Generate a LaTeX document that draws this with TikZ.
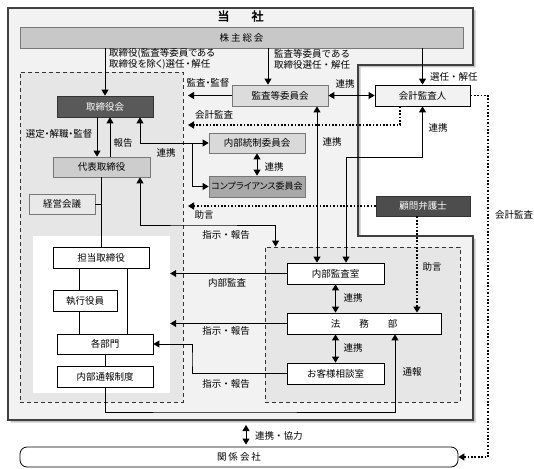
\documentclass[tikz,border=0pt]{standalone}
\usepackage{fontspec}
\setmainfont{Noto Sans CJK JP}
\newfontfamily\jpb[FakeBold=2.5]{Noto Sans CJK JP}
\newfontfamily\jpp[RawFeature=+palt]{Noto Sans CJK JP}
\usetikzlibrary{arrows.meta,shadows}
\definecolor{frm}{HTML}{F2F2F2}
\definecolor{regc}{HTML}{E6E6E6}
\definecolor{kabuc}{HTML}{C8C8C8}
\definecolor{torc}{HTML}{595959}
\definecolor{kanc}{HTML}{DCDCDC}
\definecolor{daic}{HTML}{CDCDCD}
\definecolor{keic}{HTML}{E9E9E9}
\definecolor{naic}{HTML}{D9D9D9}
\definecolor{compc}{HTML}{A8A8A8}
\definecolor{komc}{HTML}{4D4D4D}
\definecolor{bord}{HTML}{777777}
\tikzset{
  txt/.style={font=\fontsize{9.5}{11}\selectfont},
  ptxt/.style={font=\fontsize{9.5}{11}\jpp},
  bx/.style={draw=black, line width=0.8pt, inner sep=0pt, txt, fill=white},
  gbx/.style={bx, draw=bord},
  regbox/.style={draw=black!80, line width=0.8pt, dash pattern=on 4pt off 3pt, fill=regc, inner sep=0pt},
  lbl/.style={txt, inner sep=0pt},
  plbl/.style={ptxt, inner sep=0pt},
  con/.style={line width=1pt},
  dotl/.style={line width=1.7pt, dash pattern=on 1.7pt off 1.7pt},
  >={Triangle[width=7pt,length=6pt]}
}
\begin{document}
\begin{tikzpicture}[x=1pt,y=-1pt]
\useasboundingbox (0,0) rectangle (534,468);
% outer frame
\draw[line width=1.2pt, draw=black!75, fill=frm, drop shadow={shadow xshift=2.5pt, shadow yshift=-2.5pt, fill=black!45}]
  (8,8) -- (473,8) -- (473,65) -- (358,65) -- (358,236) -- (473,236) -- (473,420) -- (8,420) -- cycle;
\node[txt, font=\fontsize{12}{13}\jpb] (title) at (240.5,16) {当\hspace{22pt}社};
% regions
\node[regbox, minimum width=163pt, minimum height=330pt] (lreg) at (101.5,237) {};
\node[fill=white, inner sep=0pt, minimum width=137pt, minimum height=157pt] (wreg) at (101.5,314.5) {};
\node[regbox, minimum width=195pt, minimum height=155pt] (rreg) at (362.5,324.5) {};
% boxes
\node[gbx, fill=kabuc, minimum width=443pt, minimum height=21pt] (kabu) at (241.5,37.5) {株\hspace{2pt}主\hspace{2pt}総\hspace{2pt}会};
\node[gbx, draw=black!80, fill=torc, text=white, minimum width=96pt, minimum height=21pt] (torikai) at (105,106.5) {取締役会};
\node[gbx, fill=kanc, minimum width=96pt, minimum height=21pt] (kansa) at (280,95.5) {監査等委員会};
\node[bx, fill=frm, minimum width=95pt, minimum height=21pt] (kaikei) at (422.5,95.5) {会計監査人};
\node[gbx, fill=daic, minimum width=97pt, minimum height=20pt] (daihyo) at (101.5,167) {代表取締役};
\node[gbx, fill=naic, minimum width=96pt, minimum height=20pt] (naibu) at (257,143) {内部統制委員会};
\node[gbx, fill=compc, minimum width=96pt, minimum height=21pt, font=\fontsize{9}{10}\jpp] (comp) at (257,186.5) {コンプライアンス委員会};
\node[gbx, draw=black!80, fill=komc, text=white, minimum width=94pt, minimum height=20pt] (komon) at (423,206) {顧問弁護士};
\node[gbx, fill=keic, minimum width=66pt, minimum height=20pt] (keiei) at (62,204) {経営会議};
\node[bx, minimum width=96pt, minimum height=21pt] (tanto) at (101,257.5) {担当取締役};
\node[bx, minimum width=64pt, minimum height=21pt] (shikko) at (85,300.5) {執行役員};
\node[bx, minimum width=96pt, minimum height=20pt] (kakubu) at (105,344) {各部門};
\node[bx, minimum width=96pt, minimum height=21pt] (tsuho) at (105,376.5) {内部通報制度};
\node[bx, minimum width=97pt, minimum height=21pt] (naikan) at (335.5,273.5) {内部監査室};
\node[bx, minimum width=154pt, minimum height=21pt] (homu) at (364,323.5) {法\hspace{19pt}務\hspace{19pt}部};
\node[bx, minimum width=97pt, minimum height=21pt] (okyaku) at (335.5,373.5) {お客様相談室};
\node[bx, rounded corners=7pt, minimum width=438pt, minimum height=20pt] (kankei) at (239,457) {関\hspace{2pt}係\hspace{2pt}会\hspace{2pt}社};
% helper coordinates
\coordinate (kb1) at (188,95.5);
\coordinate (ka) at (188,125);
\coordinate (j1) at (192,143);
\coordinate (j2) at (346,157);
\coordinate (jo) at (188,206);
\coordinate (j3) at (488,300);
\coordinate (j4) at (200,225);
\coordinate (j5) at (200,412);
\coordinate (j6) at (192,360);
\coordinate (fb) at (246,425);
% connectors
\draw[con,->] (kabu.south -| torikai.north) -- (torikai.north);
\draw[con,->] ([xshift=-12pt]kansa.north |- kabu.south) -- ([xshift=-12pt]kansa.north);
\draw[con,->] (kaikei.north |- kabu.south) -- (kaikei.north);
\draw[con,<->] (kansa.east) -- (kaikei.west);
\draw[con,->] (kansa.west) -- (kb1);
\draw[dotl,->] ([xshift=-22.5pt]kaikei.south) |- (ka);
\draw[con,->] ([xshift=-8pt]torikai.south) -- ([xshift=-8pt]torikai.south |- daihyo.north);
\draw[con,->] ([xshift=5pt]torikai.south |- daihyo.north) -- ([xshift=5pt]torikai.south);
\draw[con,->] (j1) -- (naibu.west);
\draw[con,->] (j1) |- (comp.west);
\draw[con,->] (j1) -| ([xshift=35pt]torikai.south);
\draw[con,<->] (naibu.south) -- (comp.north);
\draw[con,<->] ([xshift=37pt]kansa.south) -- ([xshift=37pt]kansa.south |- naikan.north);
\draw[con,<->] (kaikei.south) |- (j2) -| ([xshift=10.5pt]naikan.north);
\draw[dotl,->] (komon.west) -- (jo);
\draw[dotl,->] ([xshift=-6pt]komon.south) -- ([xshift=-6pt]komon.south |- homu.north);
\draw[dotl,->] (kaikei.east) -| (j3) |- (kankei.east);
\draw[con,<->] ([xshift=38.5pt]daihyo.south) |- (j4) -| ([xshift=11pt]rreg.north west);
\draw[con] (daihyo.south) -- (daihyo.south |- tanto.north);
\draw[con] (keiei.east) -- (keiei.east -| daihyo.south);
\draw[con] ([xshift=-6pt]shikko.north |- tanto.south) -- ([xshift=-6pt]shikko.north);
\draw[con] ([xshift=-6pt]shikko.south) -- ([xshift=-6pt]shikko.south |- kakubu.north);
\draw[con] ([xshift=26pt]tanto.south) -- ([xshift=26pt]tanto.south |- kakubu.north);
\draw[con] (kakubu.south) -- (tsuho.north);
\draw[con,->] (tsuho.south) |- (j5) -| ([xshift=31pt]homu.south);
\draw[con,->] (naikan.west) -- (wreg.east |- naikan.west);
\draw[con,->] (homu.west) -- (wreg.east |- homu.west);
\draw[con,->] (okyaku.west) -| (j6) |- (kakubu.east);
\draw[con,<->] (naikan.south) -- (naikan.south |- homu.north);
\draw[con,<->] (okyaku.north |- homu.south) -- (okyaku.north);
\draw[con,<->] (fb) -- ([yshift=2pt]fb |- kankei.north);
% labels
\node[plbl, anchor=west, align=left] (t1) at (109,59) {取締役(監査等委員である\\取締役を除く)選任\hspace{1pt}・\hspace{1pt}解任};
\node[lbl, anchor=west, align=left] (t2) at (274,59) {監査等委員である\\取締役選任・解任};
\node[lbl, anchor=west] (t3) at (430,77) {選任・解任};
\node[lbl] (t4) at (345,84) {連携};
\node[plbl] (t5) at (208,83) {監査・監督};
\node[lbl] (t6) at (214,115) {会計監査};
\node[plbl] (t7) at (59,134) {選定・解職・監督};
\node[lbl] (t8) at (123,143) {報告};
\node[lbl] (t9) at (166,153) {連携};
\node[lbl] (t10) at (274,167) {連携};
\node[lbl] (t11) at (332,142) {連携};
\node[lbl] (t12) at (438,128) {連携};
\node[lbl] (t13) at (204,215) {助言};
\node[lbl] (t14) at (226,235) {指示・報告};
\node[lbl] (t15) at (514,215) {会計監査};
\node[lbl] (t16) at (432,267) {助言};
\node[lbl] (t17) at (227,283) {内部監査};
\node[lbl] (t18) at (226,331) {指示・報告};
\node[lbl] (t19) at (226,384) {指示・報告};
\node[lbl] (t20) at (353,298) {連携};
\node[lbl] (t21) at (353,348) {連携};
\node[lbl] (t22) at (412,372) {通報};
\node[lbl, anchor=west] (t23) at (255,436) {連携・協力};
\end{tikzpicture}
\end{document}
